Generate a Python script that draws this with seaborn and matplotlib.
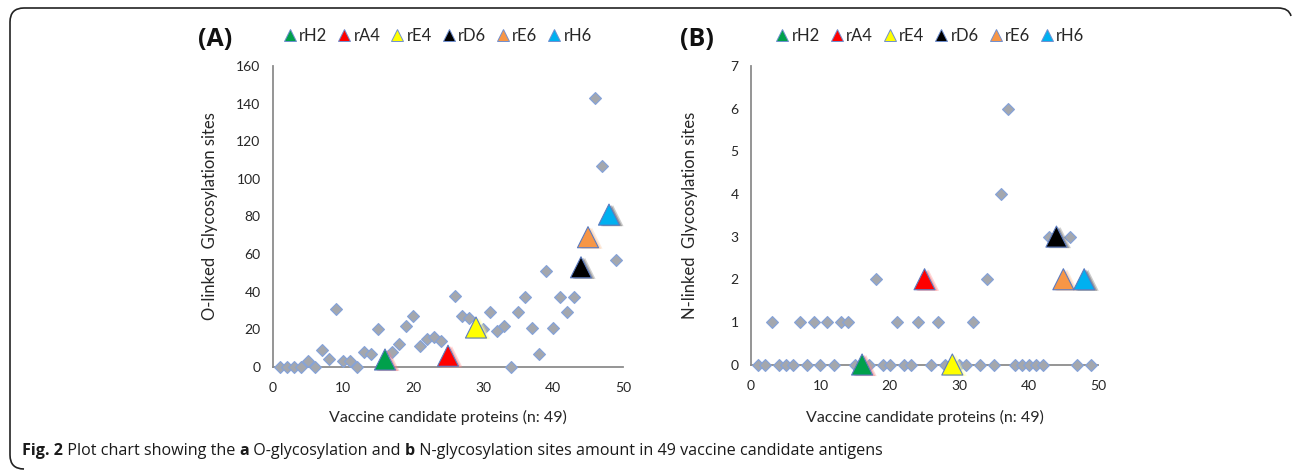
"""
Glycosylation sites plot (O-linked / N-linked) for 49 vaccine candidates
Run: python plot.py
"""

import matplotlib
matplotlib.use("Agg")
import matplotlib.pyplot as plt
import matplotlib.transforms as mtransforms
from matplotlib.lines import Line2D
from matplotlib.path import Path
from matplotlib.patches import PathPatch
import seaborn as sns
import pandas as pd

# ─────────────────────────────────────────────
# Data
# ─────────────────────────────────────────────
protein_idx = list(range(1, 50))
o_linked = [0, 0, 0, 0, 3, 0, 9, 4, 31, 3,
            3, 0, 8, 7, 20, 4, 8, 12, 22, 27,
            11, 15, 16, 14, 6, 38, 27, 26, 21, 20,
            29, 19, 22, 0, 29, 37, 21, 7, 51, 21,
            37, 29, 37, 53, 69, 143, 107, 81, 57]
n_linked = [0, 0, 1, 0, 0, 0, 1, 0, 1, 0,
            1, 0, 1, 1, 0, 0, 0, 2, 0, 0,
            1, 0, 0, 1, 2, 0, 1, 0, 0, 0,
            0, 1, 0, 2, 0, 4, 6, 0, 0, 0,
            0, 0, 3, 3, 2, 3, 0, 2, 0]
vaccine_names = ["rH2", "rA4", "rE4", "rD6", "rE6", "rH6"]
vaccine_idx   = [16, 25, 29, 44, 45, 48]

# ─────────────────────────────────────────────
# Style
# ─────────────────────────────────────────────
vaccine_colors = ["#00A04B", "#FF0000", "#FFFF00", "#000000", "#F79646", "#00B0F0"]
shadow_colors  = ["#F08A8A", "#FF8C8C", "#FFFFA0", "#7A7A7A", "#FBC8A0", "#6E6E6E"]
AXIS_GRAY = "#8C8C8C"
TEXT_DARK = "#262626"

sns.set_style("white")
plt.rcParams["font.family"] = ["Lato", "DejaVu Sans"]

df = pd.DataFrame({"protein": protein_idx, "O": o_linked, "N": n_linked})
name_of = dict(zip(vaccine_idx, vaccine_names))
df["vaccine"] = df["protein"].map(name_of).fillna("")

fig = plt.figure(figsize=(12.92, 4.74), dpi=100)
ax_a = fig.add_axes([0.2113, 0.2257, 0.2709, 0.6351])
ax_b = fig.add_axes([0.5813, 0.2310, 0.2686, 0.6297])


def draw_panel(ax, col, ymax, ystep, ylabel, tag, tag_x, legend_x, ylab_x, xlab_y):
    base = df[df["vaccine"] == ""]
    vac = df[df["vaccine"] != ""]
    pal = dict(zip(vaccine_names, vaccine_colors))
    shadow_pal = dict(zip(vaccine_names, shadow_colors))

    sns.scatterplot(data=base, x="protein", y=col, marker="D", s=36,
                    color="#A4A7AD", edgecolor="#86A3D8", linewidth=0.9,
                    ax=ax, clip_on=False, zorder=3, legend=False)

    # soft shadow to the right of each triangle
    for dx, alpha in [(4, 0.35), (2.5, 0.5)]:
        sns.scatterplot(data=vac, x="protein", y=col, hue="vaccine",
                        hue_order=vaccine_names, palette=shadow_pal,
                        marker="^", s=230, linewidth=0, alpha=alpha,
                        ax=ax, clip_on=False, zorder=3.5, legend=False)
        sh = ax.collections[-1]
        sh.set_offset_transform(ax.transData + mtransforms.ScaledTranslation(
            dx / 100, -1 / 100, fig.dpi_scale_trans))

    sns.scatterplot(data=vac, x="protein", y=col, hue="vaccine",
                    hue_order=vaccine_names, palette=pal, marker="^", s=230,
                    edgecolor="#5B7BC0", linewidth=0.8, ax=ax, clip_on=False,
                    zorder=4, legend=False)

    ax.set_xlim(0, 50)
    ax.set_ylim(0, ymax)
    ax.set_xticks(range(0, 51, 10))
    ax.set_yticks([ystep * i for i in range(int(ymax / ystep) + 1)])
    sns.despine(ax=ax)
    for s in ["left", "bottom"]:
        ax.spines[s].set_color(AXIS_GRAY)
        ax.spines[s].set_linewidth(1.3)
    ax.tick_params(axis="both", direction="out", length=5, width=1.1,
                   color=AXIS_GRAY, labelcolor=TEXT_DARK, labelsize=10, pad=6)
    ax.tick_params(axis="y", pad=4)

    ax.set_xlabel("Vaccine candidate proteins (n: 49)", fontsize=11.5, color=TEXT_DARK)
    ax.set_ylabel(ylabel, fontsize=12, color=TEXT_DARK)
    ax.yaxis.set_label_coords(ylab_x, 0.5)
    ax.xaxis.set_label_coords(0.5, xlab_y)

    handles = [Line2D([], [], marker="^", linestyle="", markersize=9,
                      markerfacecolor=c, markeredgecolor="#6F8FD0", markeredgewidth=0.7)
               for c in vaccine_colors]
    ax.legend(handles, vaccine_names, ncol=6, loc="center",
              bbox_to_anchor=(legend_x, 1.10), frameon=False, fontsize=12,
              handlelength=0.8, handletextpad=0.15, columnspacing=0.62,
              borderaxespad=0, labelcolor=TEXT_DARK)

    fig.text(tag_x, 1 - 40 / 474, tag, fontsize=18, fontweight="bold",
             family=["Open Sans", "DejaVu Sans"],
             ha="center", va="center", color="#111111")


draw_panel(ax_a, "O", 160, 20, "O-linked  Glycosylation sites", "(A)",
           215 / 1292, 0.47, -0.157, -0.143)
draw_panel(ax_b, "N", 7, 1, "N-linked  Glycosylation sites", "(B)",
           697 / 1292, 0.516, -0.153, -0.152)

# ─────────────────────────────────────────────
# Caption with bold pieces
# ─────────────────────────────────────────────
pieces = [("Fig. 2", "bold"), (" Plot chart showing the ", "normal"), ("a", "bold"),
          (" O-glycosylation and ", "normal"), ("b", "bold"),
          (" N-glycosylation sites amount in 49 vaccine candidate antigens", "normal")]
renderer = fig.canvas.get_renderer()
x_px = 22
for txt, wt in pieces:
    t = fig.text(x_px / 1292, 1 - 455 / 474, txt, fontsize=11.6, fontweight=wt,
                 family=["Open Sans", "DejaVu Sans"], color="#1A1A1A",
                 ha="left", va="baseline")
    x_px += t.get_window_extent(renderer).width

# ─────────────────────────────────────────────
# Rounded frame (left / top edges)
# ─────────────────────────────────────────────
H = 474
pts = [(24, H - 469), (10, H - 469), (10, H - 455),
       (10, H - 22), (10, H - 8), (24, H - 8),
       (1278, H - 8), (1289, H - 8), (1291, H - 16)]
codes = [Path.MOVETO, Path.CURVE3, Path.CURVE3,
         Path.LINETO, Path.CURVE3, Path.CURVE3,
         Path.LINETO, Path.CURVE3, Path.CURVE3]
frame = PathPatch(Path([(x / 1292, y / H) for x, y in pts], codes),
                  transform=fig.transFigure, fill=False, edgecolor="#222222",
                  linewidth=1.2)
fig.patches.append(frame)

fig.savefig("out.png", dpi=100)
